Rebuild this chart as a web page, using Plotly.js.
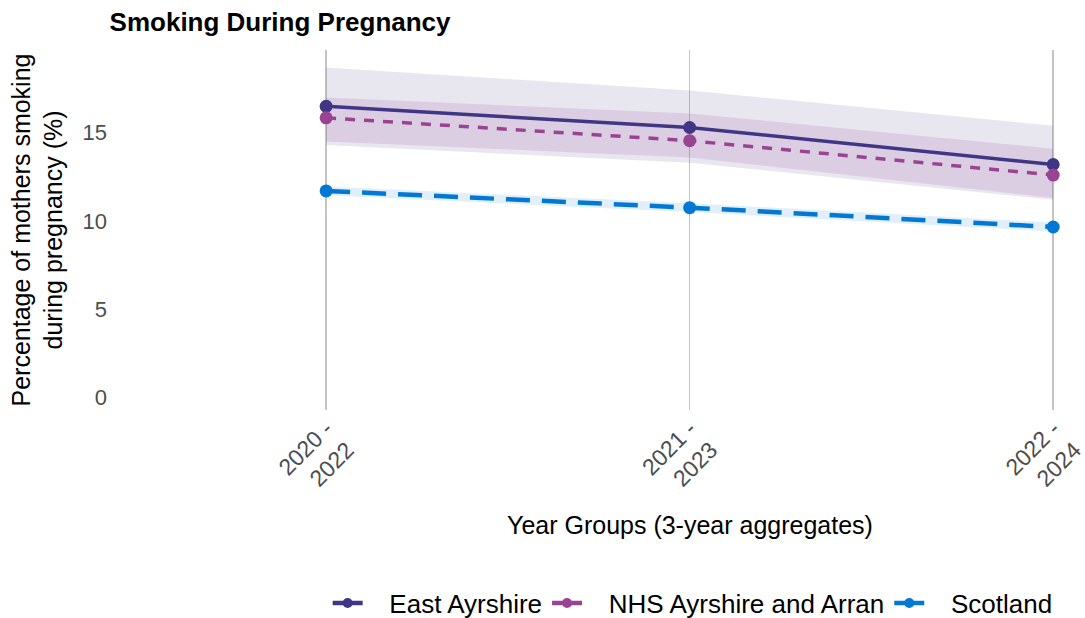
<!DOCTYPE html>
<html><head><meta charset="utf-8">
<script src="https://cdn.plot.ly/plotly-3.0.1.min.js"></script>
<style>html,body{margin:0;padding:0;background:#fff}#chart{width:1085px;height:618px}</style>
</head><body><div id="chart"></div>
<script>
var yearGroups = ['2020 -<br>2022', '2021 -<br>2023', '2022 -<br>2024'];
var eastAyrshire = [16.5, 15.3, 13.2];
var eastAyrshireLower = [14.3, 13.3, 11.2];
var eastAyrshireUpper = [18.7, 17.4, 15.4];
var nhsAyrshire = [15.85, 14.55, 12.6];
var nhsAyrshireLower = [14.5, 13.6, 11.3];
var nhsAyrshireUpper = [17.0, 16.1, 14.1];
var scotland = [11.7, 10.75, 9.65];
var scotlandLower = [11.45, 10.5, 9.4];
var scotlandUpper = [11.95, 11.0, 9.9];
var seriesNames = ['East Ayrshire', 'NHS Ayrshire and Arran', 'Scotland'];

var cols = ['#3F3685', '#9B4393', '#0078D4'];
var bandCols = ['rgba(63,54,133,0.12)', 'rgba(155,67,147,0.15)', 'rgba(0,120,212,0.12)'];
var mids = [eastAyrshire, nhsAyrshire, scotland];
var lows = [eastAyrshireLower, nhsAyrshireLower, scotlandLower];
var highs = [eastAyrshireUpper, nhsAyrshireUpper, scotlandUpper];
var dashes = ['solid', '10px,9px', '24px,12px'];
var widths = [3.5, 3.5, 4.5];
var NB = '\u00a0\u00a0\u00a0';

var traces = [];
for (var i = 0; i < 3; i++) {
  traces.push({x: yearGroups, y: lows[i], type: 'scatter', mode: 'lines', line: {width: 0, color: bandCols[i]}, showlegend: false, hoverinfo: 'skip'});
  traces.push({x: yearGroups, y: highs[i], type: 'scatter', mode: 'lines', fill: 'tonexty', fillcolor: bandCols[i], line: {width: 0, color: bandCols[i]}, showlegend: false, hoverinfo: 'skip'});
}
for (var j = 0; j < 3; j++) {
  traces.push({x: yearGroups, y: mids[j], type: 'scatter', mode: 'lines+markers', name: seriesNames[j],
    line: {color: cols[j], width: widths[j], dash: dashes[j]}, marker: {color: cols[j], size: 13}, showlegend: false});
}
for (var k = 0; k < 3; k++) {
  traces.push({x: [null], y: [null], type: 'scatter', mode: 'lines+markers', name: NB + seriesNames[k],
    line: {color: cols[k], width: 4.5}, marker: {color: cols[k], size: 10}, showlegend: true});
}

var layout = {
  width: 1085, height: 618,
  margin: {l: 108, r: 10, t: 50, b: 208},
  paper_bgcolor: '#fff', plot_bgcolor: '#fff',
  font: {family: 'Liberation Sans, Arial, sans-serif', size: 25, color: '#000'},
  title: {text: '<b>Smoking During Pregnancy</b>', xref: 'container', x: 0.101, xanchor: 'left', yref: 'container', y: 0.9644, yanchor: 'middle', font: {size: 26, color: '#000'}},
  xaxis: {
    type: 'category', range: [-0.6, 2.06], showgrid: true, gridcolor: '#C4C4C4', gridwidth: 1.5,
    zeroline: false, showline: false, ticks: '', tickangle: -45, automargin: false,
    tickfont: {size: 23, color: '#4D4D4D'}, fixedrange: true
  },
  yaxis: {
    range: [-0.74, 19.7], showgrid: false, zeroline: false, showline: false, ticks: '', automargin: false,
    tickvals: [0, 5, 10, 15], tickfont: {size: 22, color: '#4D4D4D'},
    title: {text: 'Percentage of mothers smoking<br>during pregnancy (%)', font: {size: 25, color: '#000'}, standoff: 12}
  },
  legend: {orientation: 'h', traceorder: 'normal', x: 0.302, xref: 'container', xanchor: 'left', y: 0.024, yref: 'container', yanchor: 'middle', font: {size: 26, color: '#000'}, bgcolor: 'rgba(0,0,0,0)'},
  annotations: [
    {text: 'Year Groups (3-year aggregates)', xref: 'paper', yref: 'paper', x: 0.602, y: -0.319, xanchor: 'center', yanchor: 'middle', showarrow: false, font: {size: 25, color: '#000'}}
  ]
};
Plotly.newPlot('chart', traces, layout, {displayModeBar: false, staticPlot: true});
</script></body></html>
